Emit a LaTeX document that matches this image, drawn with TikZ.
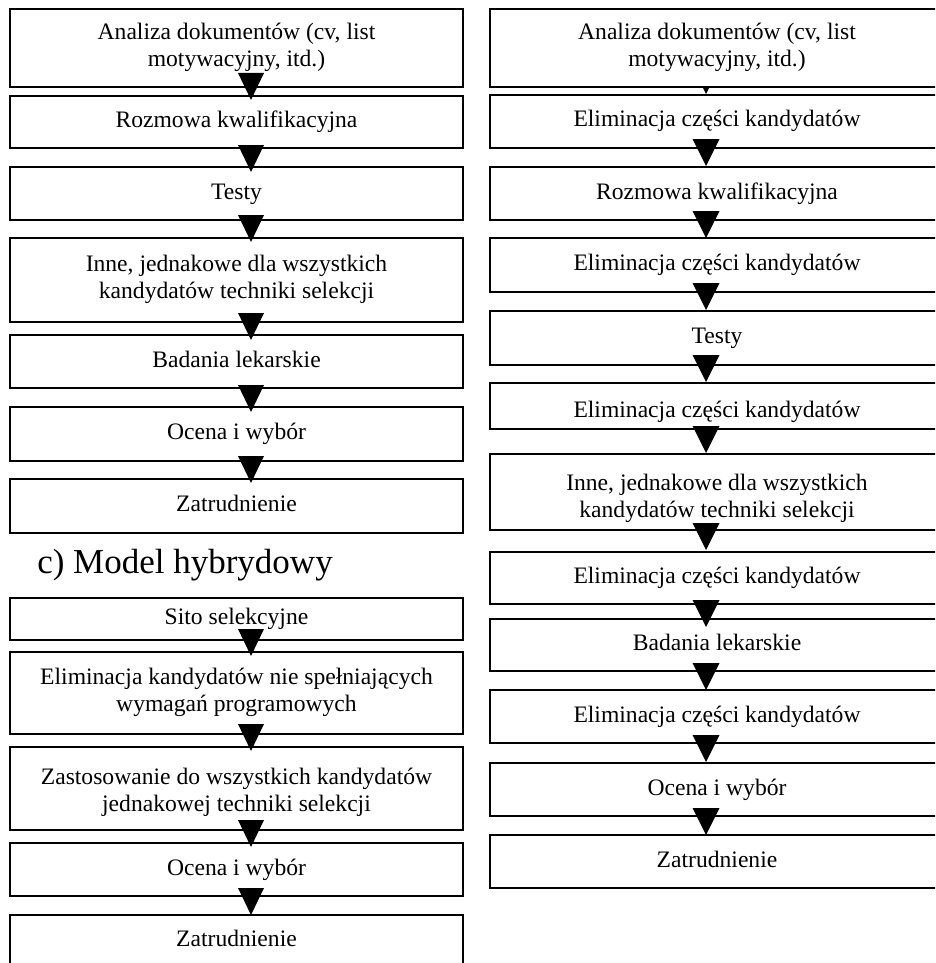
\documentclass[tikz,border=0pt]{standalone}
\usepackage{fontspec}
\setmainfont{Liberation Serif}
\usetikzlibrary{calc}
\tikzset{
  box/.style={draw, line width=2.7pt, inner sep=0pt, outer sep=0pt, text height=0pt, text depth=0pt, font=\fontsize{23.6}{27}\selectfont},
  lbox/.style={box, minimum width=453pt},
  rbox/.style={box, minimum width=454pt},
  titlestyle/.style={font=\fontsize{35}{40}\selectfont, inner sep=0pt, anchor=base},
}
\newcommand\bx[7]{\node[#1, minimum height={#5pt-#4pt}] (#2) at (#3,{(#4+#5)/2}) {\raisebox{#6pt}{#7}};}
\newcommand\two[2]{\begin{tabular}{@{}c@{}}#1\\#2\end{tabular}}
\newcommand\tri[6]{\fill ($(#2.north)+(#3,#4)$) -- ++({-#5/2},-#6) -- ++(#5,0) -- cycle;}
\begin{document}
\begin{tikzpicture}[x=1pt,y=-1pt]
\useasboundingbox (0,0) rectangle (935,963);
\clip (0,0) rectangle (935,963);
\fill[white] (0,0) rectangle (935,963);
% left column: a
\bx{lbox}{a1}{236.5}{9}{87}{-5.5}{\two{Analiza dokumentów (cv, list}{motywacyjny, itd.)}}
\bx{lbox}{a2}{236.5}{96}{148}{-5.5}{Rozmowa kwalifikacyjna}
\bx{lbox}{a3}{236.5}{167}{220}{-5.5}{Testy}
\bx{lbox}{a4}{236.5}{238}{322}{-5.5}{\two{Inne, jednakowe dla wszystkich}{kandydatów techniki selekcji}}
\bx{lbox}{a5}{236.5}{335}{388}{-5.5}{Badania lekarskie}
\bx{lbox}{a6}{236.5}{407}{461}{-5.5}{Ocena i wybór}
\bx{lbox}{a7}{236.5}{479}{533}{-5.5}{Zatrudnienie}
\tri{a1}{a2}{14.5}{4}{26}{27}
\tri{a2}{a3}{14.5}{5}{26}{27}
\tri{a3}{a4}{14.5}{4}{26}{27}
\tri{a4}{a5}{14.5}{5}{26}{27}
\tri{a5}{a6}{14.5}{5}{26}{27}
\tri{a6}{a7}{14.5}{4}{26}{27}
% title
\node[titlestyle] (title) at (185,573) {c) Model hybrydowy};
% left column: b
\bx{lbox}{b1}{236.5}{598}{640}{-5.5}{Sito selekcyjne}
\bx{lbox}{b2}{236.5}{652}{734}{-5.5}{\two{Eliminacja kandydatów nie spełniających}{wymagań programowych}}
\bx{lbox}{b3}{236.5}{747}{830}{-10}{\two{Zastosowanie do wszystkich kandydatów}{jednakowej techniki selekcji}}
\bx{lbox}{b4}{236.5}{843}{896}{-5.5}{Ocena i wybór}
\bx{lbox}{b5}{236.5}{915}{968}{-5}{Zatrudnienie}
\tri{b1}{b2}{14.5}{4}{26}{27}
\tri{b2}{b3}{14.5}{4}{26}{27}
\tri{b3}{b4}{14.5}{4}{26}{27}
\tri{b4}{b5}{14.5}{0}{26}{27}
% right column
\bx{rbox}{r1}{717}{9}{87}{-5.5}{\two{Analiza dokumentów (cv, list}{motywacyjny, itd.)}}
\bx{rbox}{r2}{717}{95}{148}{-5.5}{Eliminacja części kandydatów}
\bx{rbox}{r3}{717}{167}{220}{-5.5}{Rozmowa kwalifikacyjna}
\bx{rbox}{r4}{717}{238}{292}{-5.5}{Eliminacja części kandydatów}
\bx{rbox}{r5}{717}{311}{365}{-5.5}{Testy}
\bx{rbox}{r6}{717}{383}{429}{-11}{Eliminacja części kandydatów}
\bx{rbox}{r7}{717}{454}{530}{-13}{\two{Inne, jednakowe dla wszystkich}{kandydatów techniki selekcji}}
\bx{rbox}{r8}{717}{552}{604}{-5.5}{Eliminacja części kandydatów}
\bx{rbox}{r9}{717}{619}{671}{-5.5}{Badania lekarskie}
\bx{rbox}{r10}{717}{690}{743}{-5.5}{Eliminacja części kandydatów}
\bx{rbox}{r11}{717}{763}{816}{-5.5}{Ocena i wybór}
\bx{rbox}{r12}{717}{835}{888}{-5.5}{Zatrudnienie}
\tri{r1}{r2}{-11}{-1}{6}{6}
\tri{r2}{r3}{-11}{-1}{27}{27}
\tri{r3}{r4}{-11}{0}{27}{27}
\tri{r4}{r5}{-11}{-1}{27}{27}
\tri{r5}{r6}{-11}{-1}{27}{27}
\tri{r6}{r7}{-11}{-1}{27}{27}
\tri{r7}{r8}{-11}{-2}{27}{27}
\tri{r8}{r9}{-11}{8}{27}{27}
\tri{r9}{r10}{-11}{0}{27}{27}
\tri{r10}{r11}{-11}{-1}{27}{27}
\tri{r11}{r12}{-11}{0}{27}{27}
\end{tikzpicture}
\end{document}
